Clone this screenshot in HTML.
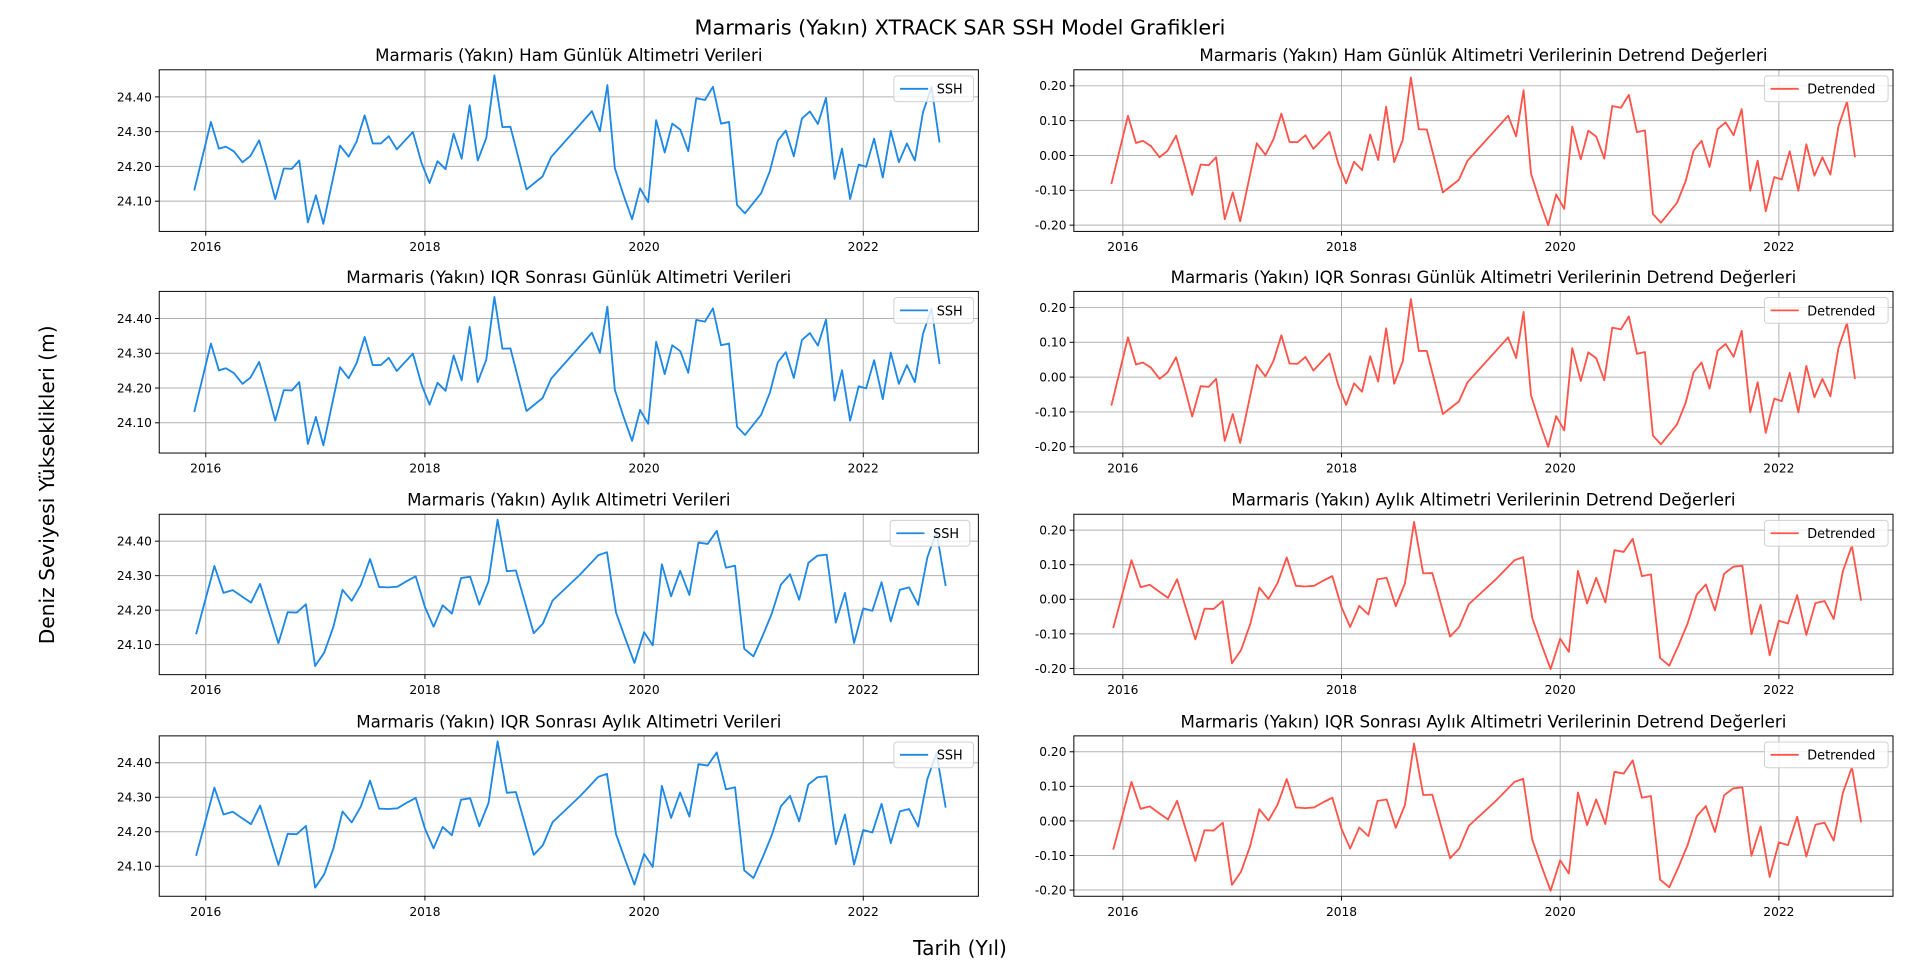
<!DOCTYPE html>
<html><head><meta charset="utf-8"><style>
html,body{margin:0;padding:0;background:#fff;}
svg{display:block;}
text{font-family:"DejaVu Sans","Liberation Sans",sans-serif;}
</style></head><body>
<svg id="fig" width="1920" height="969" viewBox="0 0 1568 791.4" xmlns="http://www.w3.org/2000/svg">
<rect x="0" y="0" width="1568" height="792" fill="#fff"/>
<text x="784" y="28" text-anchor="middle" font-size="17">Marmaris (Yakın) XTRACK SAR SSH Model Grafikleri</text>
<text x="0" y="0" transform="translate(44,396) rotate(-90)" text-anchor="middle" font-size="16.5">Deniz Seviyesi Yükseklikleri (m)</text>
<text x="784" y="780" text-anchor="middle" font-size="16.5">Tarih (Yıl)</text>
</svg>
<script>
const dailyYears=[2015.895,2016.047,2016.120,2016.183,2016.257,2016.335,2016.408,2016.487,2016.560,2016.634,2016.712,2016.785,2016.853,2016.932,2017.005,2017.073,2017.152,2017.225,2017.304,2017.377,2017.450,2017.524,2017.597,2017.670,2017.743,2017.890,2017.969,2018.042,2018.115,2018.188,2018.262,2018.335,2018.408,2018.482,2018.560,2018.634,2018.707,2018.780,2018.927,2019.073,2019.152,2019.524,2019.597,2019.665,2019.733,2019.812,2019.890,2019.963,2020.037,2020.110,2020.188,2020.257,2020.330,2020.403,2020.476,2020.555,2020.628,2020.702,2020.775,2020.848,2020.921,2021.068,2021.147,2021.220,2021.293,2021.366,2021.440,2021.513,2021.586,2021.660,2021.738,2021.806,2021.880,2021.958,2022.026,2022.099,2022.178,2022.251,2022.325,2022.398,2022.471,2022.545,2022.623,2022.696];
const dailySSH=[24.131,24.328,24.251,24.257,24.243,24.212,24.230,24.275,24.195,24.106,24.194,24.193,24.217,24.039,24.117,24.035,24.152,24.260,24.228,24.272,24.347,24.266,24.266,24.287,24.249,24.299,24.210,24.152,24.215,24.192,24.294,24.222,24.376,24.217,24.282,24.462,24.313,24.314,24.134,24.171,24.227,24.359,24.301,24.434,24.195,24.118,24.048,24.137,24.097,24.333,24.240,24.323,24.306,24.244,24.396,24.391,24.429,24.323,24.328,24.089,24.065,24.123,24.186,24.274,24.303,24.229,24.338,24.358,24.322,24.397,24.164,24.251,24.106,24.205,24.199,24.280,24.168,24.302,24.212,24.266,24.217,24.356,24.428,24.269];
const dailyDetrended=[-0.082,0.114,0.036,0.042,0.027,-0.005,0.013,0.057,-0.024,-0.113,-0.026,-0.028,-0.005,-0.183,-0.106,-0.189,-0.072,0.035,0.002,0.046,0.120,0.039,0.038,0.058,0.019,0.068,-0.022,-0.080,-0.018,-0.042,0.060,-0.013,0.140,-0.019,0.045,0.224,0.075,0.075,-0.106,-0.070,-0.015,0.114,0.055,0.187,-0.052,-0.130,-0.200,-0.112,-0.153,0.083,-0.011,0.071,0.054,-0.009,0.142,0.137,0.174,0.067,0.072,-0.168,-0.193,-0.136,-0.074,0.014,0.042,-0.033,0.076,0.095,0.058,0.133,-0.101,-0.015,-0.160,-0.062,-0.069,0.012,-0.101,0.032,-0.058,-0.005,-0.055,0.084,0.155,-0.005];
const monthlyYears=[2015.912,2016.079,2016.162,2016.246,2016.329,2016.413,2016.496,2016.580,2016.663,2016.747,2016.830,2016.914,2016.998,2017.081,2017.165,2017.248,2017.332,2017.415,2017.499,2017.582,2017.666,2017.749,2017.833,2017.916,2018.000,2018.079,2018.162,2018.246,2018.329,2018.413,2018.496,2018.580,2018.663,2018.747,2018.830,2018.993,2019.076,2019.165,2019.415,2019.582,2019.661,2019.744,2019.828,2019.912,2020.000,2020.079,2020.162,2020.246,2020.329,2020.413,2020.496,2020.580,2020.663,2020.747,2020.830,2020.914,2020.998,2021.081,2021.165,2021.248,2021.332,2021.415,2021.499,2021.582,2021.666,2021.749,2021.833,2021.916,2022.000,2022.083,2022.167,2022.251,2022.334,2022.418,2022.501,2022.585,2022.668,2022.752];
const monthlySSH=[24.130,24.328,24.250,24.258,24.240,24.222,24.276,24.190,24.104,24.194,24.193,24.217,24.038,24.077,24.152,24.259,24.227,24.273,24.348,24.267,24.266,24.268,24.284,24.298,24.209,24.152,24.214,24.190,24.293,24.297,24.216,24.283,24.462,24.313,24.315,24.133,24.161,24.228,24.303,24.359,24.368,24.193,24.118,24.047,24.136,24.098,24.333,24.240,24.314,24.244,24.396,24.392,24.430,24.323,24.329,24.088,24.066,24.125,24.190,24.274,24.304,24.230,24.337,24.358,24.361,24.164,24.250,24.105,24.205,24.198,24.281,24.167,24.259,24.266,24.215,24.353,24.428,24.270];
const monthlyDetrended=[-0.083,0.113,0.035,0.042,0.023,0.004,0.058,-0.029,-0.116,-0.027,-0.028,-0.005,-0.185,-0.147,-0.072,0.034,0.001,0.047,0.121,0.039,0.037,0.039,0.054,0.067,-0.023,-0.080,-0.019,-0.044,0.058,0.062,-0.020,0.046,0.224,0.075,0.076,-0.108,-0.080,-0.014,0.059,0.113,0.122,-0.054,-0.130,-0.202,-0.114,-0.152,0.082,-0.012,0.062,-0.009,0.142,0.137,0.175,0.067,0.072,-0.170,-0.192,-0.134,-0.070,0.013,0.043,-0.032,0.074,0.094,0.097,-0.101,-0.016,-0.162,-0.062,-0.070,0.012,-0.103,-0.011,-0.005,-0.057,0.081,0.155,-0.004];
const xTickYears=[2016,2018,2020,2022];
const sshTicks=[24.10,24.20,24.30,24.40];
const detTicks=[-0.20,-0.10,0.00,0.10,0.20];
const leftTitles=["Marmaris (Yakın) Ham Günlük Altimetri Verileri","Marmaris (Yakın) IQR Sonrası Günlük Altimetri Verileri","Marmaris (Yakın) Aylık Altimetri Verileri","Marmaris (Yakın) IQR Sonrası Aylık Altimetri Verileri"];
const rightTitles=["Marmaris (Yakın) Ham Günlük Altimetri Verilerinin Detrend Değerleri","Marmaris (Yakın) IQR Sonrası Günlük Altimetri Verilerinin Detrend Değerleri","Marmaris (Yakın) Aylık Altimetri Verilerinin Detrend Değerleri","Marmaris (Yakın) IQR Sonrası Aylık Altimetri Verilerinin Detrend Değerleri"];

const NS="http://www.w3.org/2000/svg";
const svg=document.getElementById('fig');
function mk(tag,attrs,parent){const e=document.createElementNS(NS,tag);for(const k in attrs)e.setAttribute(k,attrs[k]);(parent||svg).appendChild(e);return e;}
const rowsY=[[57,189],[238,370],[420,551],[601,732]];

function drawPanel(x0,x1,y0,y1,yr0,yr1,yMin,yMax,xs,ys,ticks,fmt,color,title,legend,name,legX,legW){
  const g=mk('g',{});
  
  
  const sx=t=>x0+(t-yr0)/(yr1-yr0)*(x1-x0);
  const sy=v=>y1-(v-yMin)/(yMax-yMin)*(y1-y0);
  const tt=mk('text',{x:(x0+x1)/2,y:y0-7,'text-anchor':'middle','font-size':'13.6'},g);
  tt.textContent=title;
  
  
  xTickYears.forEach(t=>{
    const X=sx(t);
    const gl=mk('line',{x1:X,x2:X,y1:y0,y2:y1,stroke:'#b0b0b0','stroke-width':0.8},g);
    
    
    mk('line',{x1:X,x2:X,y1:y1,y2:y1+3.5,stroke:'#000','stroke-width':0.8},g);
    const lb=mk('text',{x:X,y:y1+16,'text-anchor':'middle','font-size':'10'},g);
    lb.textContent=String(t);
    
    
  });
  ticks.forEach(v=>{
    const Y=sy(v);
    const gl=mk('line',{x1:x0,x2:x1,y1:Y,y2:Y,stroke:'#b0b0b0','stroke-width':0.8},g);
    
    
    mk('line',{x1:x0-3.5,x2:x0,y1:Y,y2:Y,stroke:'#000','stroke-width':0.8},g);
    const lb=mk('text',{x:x0-6,y:Y+3.6,'text-anchor':'end','font-size':'10'},g);
    lb.textContent=fmt(v);
    
    
  });
  const pts=xs.map((t,i)=>sx(t).toFixed(2)+','+sy(ys[i]).toFixed(2)).join(' ');
  const pl=mk('polyline',{points:pts,fill:'none',stroke:color,'stroke-width':1.5,'stroke-linejoin':'round'},g);
  
  
  const fr=mk('rect',{x:x0,y:y0,width:x1-x0,height:y1-y0,fill:'none',stroke:'#000','stroke-width':0.8},g);
  
  
  const lg=mk('g',{},g);
  
  
  mk('rect',{x:legX,y:y0+5,width:legW,height:21,rx:2.5,fill:'#fff','fill-opacity':0.8,stroke:'#d0d0d0','stroke-width':0.8},lg);
  mk('line',{x1:legX+5,x2:legX+28,y1:y0+15.5,y2:y0+15.5,stroke:color,'stroke-width':1.5},lg);
  const lt=mk('text',{x:legX+35,y:y0+19.5,'font-size':'10.5'},lg);
  lt.textContent=legend;
  
  
}
const f2=v=>v.toFixed(2);
const leftX=[xTickYears[0],xTickYears[1]];
for(let r=0;r<4;r++){
  const [y0,y1]=rowsY[r];
  const monthly=r>=2;
  const xs=monthly?monthlyYears:dailyYears;
  const ys=monthly?monthlySSH:dailySSH;
  const ds=monthly?monthlyDetrended:dailyDetrended;
  // left: 2016 at x=168, 2018 at x=347
  drawPanel(130,799,y0,y1,2016-(168-130)/89.5,2016+(799-168)/89.5,24.013,24.478,xs,ys,sshTicks,f2,'#1e88e5',leftTitles[r],'SSH','ssh-panel-'+(r+1),r==2?727:730,65);
  drawPanel(877,1546,y0,y1,2016-(917-877)/89.3,2016+(1546-917)/89.3,-0.218,0.246,xs,ds,detTicks,f2,'#ff5449',rightTitles[r],'Detrended','detrend-panel-'+(r+1),1441,101);
}
</script>
</body></html>
